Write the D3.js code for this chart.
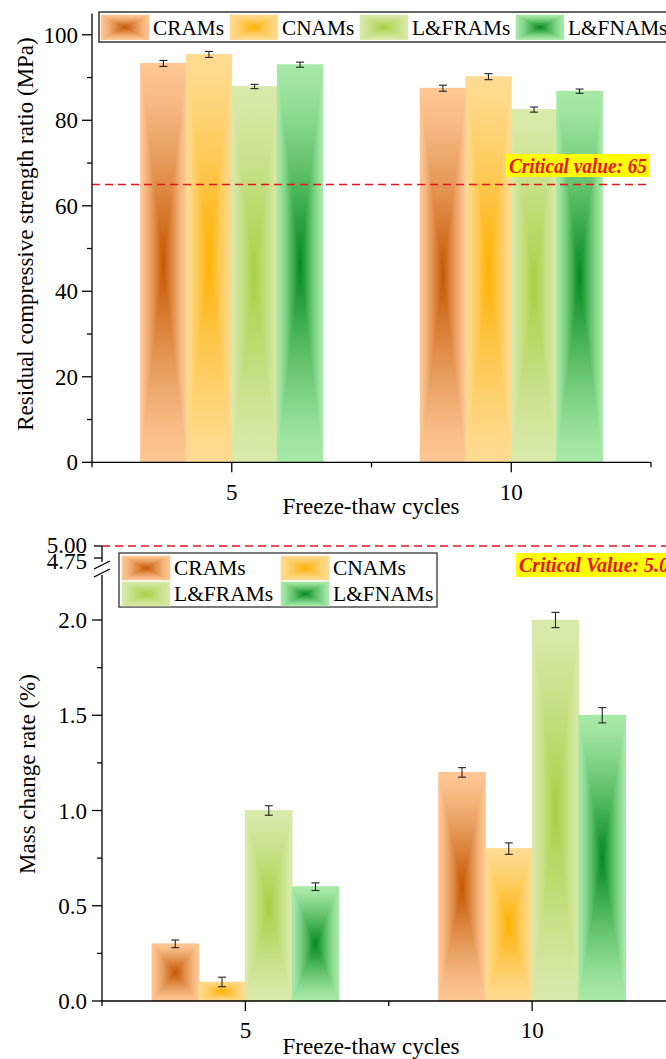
<!DOCTYPE html>
<html><head><meta charset="utf-8">
<script src="https://cdn.jsdelivr.net/npm/d3@7"></script>
<style>
body{margin:0;background:#fff}
svg text{font-family:"Liberation Serif","Times New Roman",Tinos,"DejaVu Serif",serif;fill:#000}
</style></head>
<body>
<svg id="c" width="666" height="1059" xmlns="http://www.w3.org/2000/svg" font-family="Liberation Serif, Times New Roman, serif"></svg>
<script>
// ---------- data ----------
const series = ["CRAMs", "CNAMs", "L&FRAMs", "L&FNAMs"];
const cycles = [5, 10];
// residual compressive strength ratio (per series, at 5 and 10 cycles)
const strengthCRAMs  = [93.3, 87.5];
const strengthCNAMs  = [95.4, 90.2];
const strengthLFRAMs = [87.9, 82.5];
const strengthLFNAMs = [93.0, 86.8];
const strengthErrCRAMs  = [0.7, 0.7];
const strengthErrCNAMs  = [0.7, 0.7];
const strengthErrLFRAMs = [0.5, 0.6];
const strengthErrLFNAMs = [0.6, 0.5];
// mass change rate (%)
const massCRAMs  = [0.30, 1.20];
const massCNAMs  = [0.10, 0.80];
const massLFRAMs = [1.00, 2.00];
const massLFNAMs = [0.60, 1.50];
const massErrCRAMs  = [0.02, 0.025];
const massErrCNAMs  = [0.025, 0.03];
const massErrLFRAMs = [0.025, 0.04];
const massErrLFNAMs = [0.02, 0.04];
const strengthTicks = [0, 20, 40, 60, 80, 100];
const massTicks = [0, 0.5, 1.0, 1.5, 2.0];
const massUpperTicks = [4.75, 5.00];
const criticalStrength = 65;
const criticalMass = 5.0;

const strengthData = [strengthCRAMs, strengthCNAMs, strengthLFRAMs, strengthLFNAMs];
const strengthErr = [strengthErrCRAMs, strengthErrCNAMs, strengthErrLFRAMs, strengthErrLFNAMs];
const massData = [massCRAMs, massCNAMs, massLFRAMs, massLFNAMs];
const massErr = [massErrCRAMs, massErrCNAMs, massErrLFRAMs, massErrLFNAMs];

const lightColors = ["#FEC794", "#FEDB92", "#D9E9AA", "#A8EAA8"];
const darkColors  = ["#C45500", "#FFB000", "#A6CF40", "#00891C"];

// ---------- setup ----------
const FONT = "Liberation Serif, Times New Roman, serif";
const svg = d3.select("#c");
const defs = svg.append("defs");
const stopsT = [0, 0.1, 0.2, 0.35, 0.5, 0.65, 0.8, 0.9, 1];
series.forEach((s, i) => {
  const dirs = {down: [0,0,0,1], up: [0,1,0,0], right: [0,0,1,0], left: [1,0,0,0]};
  Object.entries(dirs).forEach(([k, [x1,y1,x2,y2]]) => {
    const g = defs.append("linearGradient").attr("id", `g${i}${k}`)
      .attr("x1", x1).attr("y1", y1).attr("x2", x2).attr("y2", y2);
    stopsT.forEach(t => g.append("stop").attr("offset", t)
      .attr("stop-color", d3.interpolateRgb(lightColors[i], darkColors[i])(Math.pow(t, 1.3))));
  });
});
function boxGrad(g, x0, y0, x1, y1, i) {
  const cx = (x0 + x1) / 2, cy = (y0 + y1) / 2;
  const grp = g.append("g");
  grp.append("rect").attr("x", x0).attr("y", y0).attr("width", x1 - x0).attr("height", y1 - y0)
    .attr("fill", d3.interpolateRgb(lightColors[i], darkColors[i])(0.35));
  const tris = [
    ["down",  [[x0,y0],[x1,y0],[cx,cy]]],
    ["up",    [[x0,y1],[x1,y1],[cx,cy]]],
    ["right", [[x0,y0],[x0,y1],[cx,cy]]],
    ["left",  [[x1,y0],[x1,y1],[cx,cy]]]
  ];
  tris.forEach(([k, pts]) => {
    grp.append("polygon").attr("points", pts.map(p => p.join(",")).join(" "))
      .attr("fill", `url(#g${i}${k})`).attr("stroke", `url(#g${i}${k})`).attr("stroke-width", 0.6);
  });
}
const barW = 0.815; // in x data units

function drawErr(g, x, y0, y1) {
  g.append("line").attr("x1", x).attr("x2", x).attr("y1", y0).attr("y2", y1);
  g.append("line").attr("x1", x - 4).attr("x2", x + 4).attr("y1", y0).attr("y2", y0);
  g.append("line").attr("x1", x - 4).attr("x2", x + 4).attr("y1", y1).attr("y2", y1);
}
function txt(g, x, y, s, size, anchor) {
  return g.append("text").attr("x", x).attr("y", y).attr("font-family", FONT)
    .attr("font-size", size).attr("text-anchor", anchor || "start").text(s);
}

// ================= TOP CHART =================
{
  const x = d3.scaleLinear().domain([2.5, 12.5]).range([92, 651]);
  const y = d3.scaleLinear().domain([0, 105]).range([462.3, 13.4]);
  const g = svg.append("g");
  cycles.forEach((c, ci) => {
    series.forEach((s, si) => {
      const xc = c + (si - 1.5) * barW;
      boxGrad(g, x(xc - barW/2), y(strengthData[si][ci]), x(xc + barW/2), y(0), si);
    });
  });
  const eg = g.append("g").attr("stroke", "#222").attr("stroke-width", 1.1);
  cycles.forEach((c, ci) => series.forEach((s, si) => {
    const xc = x(c + (si - 1.5) * barW);
    const v = strengthData[si][ci], e = strengthErr[si][ci];
    drawErr(eg, xc, y(v - e), y(v + e));
  }));
  g.append("line").attr("x1", x(2.5)).attr("x2", 649).attr("y1", y(criticalStrength)).attr("y2", y(criticalStrength))
    .attr("stroke", "#E8141C").attr("stroke-width", 1.5).attr("stroke-dasharray", "8,5");
  g.append("rect").attr("x", 506).attr("y", 154).attr("width", 143).attr("height", 23).attr("fill", "#FFFF00");
  txt(g, 509, 172.5, "Critical value: " + criticalStrength, 21).attr("font-weight", "bold")
    .attr("font-style", "italic").attr("textLength", 138).attr("lengthAdjust", "spacingAndGlyphs")
    .style("fill", "#E8141C");
  const ax = g.append("g").attr("stroke", "#000").attr("stroke-width", 1.3).attr("fill", "none");
  ax.append("line").attr("x1", x(2.5)).attr("x2", x(2.5)).attr("y1", y(0)).attr("y2", y(105));
  ax.append("line").attr("x1", x(2.5)).attr("x2", x(12.5)).attr("y1", y(0)).attr("y2", y(0));
  d3.range(0, 101, 10).forEach(v => {
    const L = v % 20 === 0 ? 10 : 5;
    ax.append("line").attr("x1", x(2.5) - L).attr("x2", x(2.5)).attr("y1", y(v)).attr("y2", y(v));
  });
  [2.5, 5, 7.5, 10, 12.5].forEach(v => {
    const L = (v === 5 || v === 10) ? 10 : 5;
    ax.append("line").attr("x1", x(v)).attr("x2", x(v)).attr("y1", y(0)).attr("y2", y(0) + L);
  });
  strengthTicks.forEach(v => txt(g, 78, y(v) + 8, v, 23, "end"));
  cycles.forEach(c => txt(g, x(c), 500, c, 23, "middle"));
  txt(g, 371, 514, "Freeze-thaw cycles", 23, "middle");
  g.append("text").attr("transform", "translate(33,234) rotate(-90)").attr("text-anchor", "middle")
    .attr("font-family", FONT).attr("font-size", 23).text("Residual compressive strength ratio (MPa)");
  g.append("rect").attr("x", 99).attr("y", 12).attr("width", 600).attr("height", 30)
    .attr("fill", "#fff").attr("stroke", "#333").attr("stroke-width", 1.5);
  const lx = [101, 230, 360, 516];
  series.forEach((s, i) => {
    boxGrad(g, lx[i], 15, lx[i] + 48, 39.5, i);
    txt(g, lx[i] + 52, 35, s, 21.3);
  });
}

// ================= BOTTOM CHART =================
{
  const x = d3.scaleLinear().domain([2.5, 12.5]).range([102, 675.5]);
  const y = d3.scaleLinear().domain([0, 2.0]).range([1001, 620]);
  const yU = d3.scaleLinear().domain([4.75, 5.0]).range([558, 546]);
  const g = svg.append("g");
  cycles.forEach((c, ci) => {
    series.forEach((s, si) => {
      const xc = c + (si - 1.5) * barW;
      boxGrad(g, x(xc - barW/2), y(massData[si][ci]), x(xc + barW/2), y(0), si);
    });
  });
  const eg = g.append("g").attr("stroke", "#222").attr("stroke-width", 1.1);
  cycles.forEach((c, ci) => series.forEach((s, si) => {
    const xc = x(c + (si - 1.5) * barW);
    const v = massData[si][ci], e = massErr[si][ci];
    drawErr(eg, xc, y(v - e), y(v + e));
  }));
  g.append("line").attr("x1", x(2.5)).attr("x2", 666).attr("y1", yU(criticalMass)).attr("y2", yU(criticalMass))
    .attr("stroke", "#E8141C").attr("stroke-width", 1.5).attr("stroke-dasharray", "8,5");
  g.append("rect").attr("x", 516).attr("y", 553).attr("width", 160).attr("height", 24).attr("fill", "#FFFF00");
  txt(g, 519, 572, "Critical Value: " + criticalMass.toFixed(2), 21).attr("font-weight", "bold")
    .attr("font-style", "italic").attr("textLength", 160).attr("lengthAdjust", "spacingAndGlyphs")
    .style("fill", "#E8141C");
  const ax = g.append("g").attr("stroke", "#000").attr("stroke-width", 1.3).attr("fill", "none");
  const x0 = x(2.5);
  ax.append("line").attr("x1", x0).attr("x2", x0).attr("y1", y(0)).attr("y2", 575);
  ax.append("line").attr("x1", x0).attr("x2", x0).attr("y1", 562).attr("y2", yU(5.0));
  ax.append("line").attr("x1", x0).attr("x2", 666).attr("y1", y(0)).attr("y2", y(0));
  d3.range(0, 2.01, 0.25).forEach(v => {
    const L = Math.abs(v * 2 - Math.round(v * 2)) < 1e-6 ? 10 : 5;
    ax.append("line").attr("x1", x0 - L).attr("x2", x0).attr("y1", y(v)).attr("y2", y(v));
  });
  massUpperTicks.forEach(v => ax.append("line").attr("x1", x0 - 8).attr("x2", x0).attr("y1", yU(v)).attr("y2", yU(v)));
  [565, 573].forEach(yb => ax.append("line").attr("x1", x0 - 8).attr("x2", x0 + 8).attr("y1", yb + 4).attr("y2", yb - 4));
  [2.5, 5, 7.5, 10].forEach(v => {
    const L = (v === 5 || v === 10) ? 10 : 5;
    ax.append("line").attr("x1", x(v)).attr("x2", x(v)).attr("y1", y(0)).attr("y2", y(0) + L);
  });
  massTicks.forEach(v => txt(g, 87, y(v) + 8, v.toFixed(1), 23, "end"));
  txt(g, 87, yU(5.0) + 7, "5.00", 23, "end");
  txt(g, 87, yU(4.75) + 11, "4.75", 23, "end");
  cycles.forEach(c => txt(g, x(c), 1038, c, 23, "middle"));
  txt(g, 371, 1054, "Freeze-thaw cycles", 23, "middle");
  g.append("text").attr("transform", "translate(35,774) rotate(-90)").attr("text-anchor", "middle")
    .attr("font-family", FONT).attr("font-size", 23).text("Mass change rate (%)");
  g.append("rect").attr("x", 119).attr("y", 553).attr("width", 318).attr("height", 54)
    .attr("fill", "#fff").attr("stroke", "#333").attr("stroke-width", 1.3);
  const lx = [122, 281, 122, 281], ly = [556, 556, 582, 582];
  series.forEach((s, i) => {
    boxGrad(g, lx[i], ly[i], lx[i] + 48, ly[i] + 24, i);
    txt(g, lx[i] + 52, ly[i] + 19, s, 21.5);
  });
}
</script>
</body></html>
